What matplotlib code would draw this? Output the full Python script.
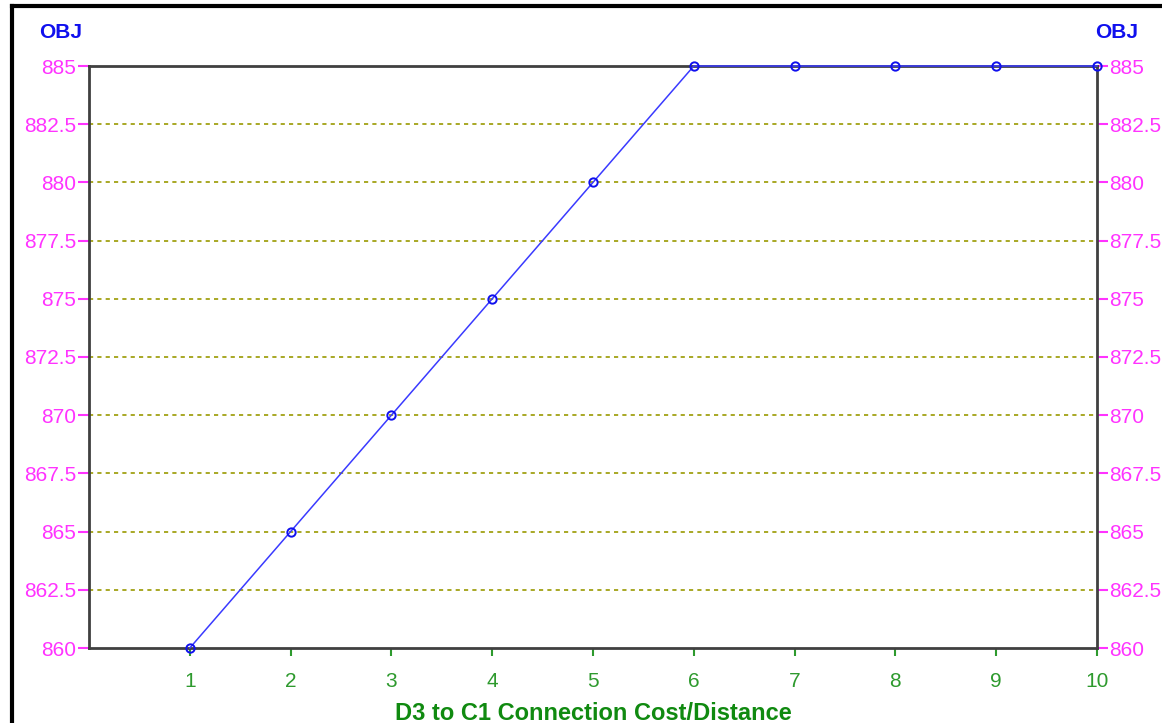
import matplotlib.pyplot as plt
from matplotlib.lines import Line2D

# objective value vs D3->C1 connection cost
cost = [1, 2, 3, 4, 5, 6, 7, 8, 9, 10]
obj = [860, 865, 870, 875, 880, 885, 885, 885, 885, 885]
yticks = [860, 862.5, 865, 867.5, 870, 872.5, 875, 877.5, 880, 882.5, 885]
ylabels = ['860', '862.5', '865', '867.5', '870', '872.5', '875', '877.5', '880', '882.5', '885']

pink = '#ff33ff'
green = '#2e9a2e'

plt.rcParams['font.family'] = ['Liberation Sans', 'DejaVu Sans']

fig = plt.figure(figsize=(11.62, 7.23), dpi=100)
ax = fig.add_axes([89 / 1162, 1 - 648 / 723, (1097 - 89) / 1162, (648 - 66) / 723])

for y in yticks[1:-1]:
    ax.axhline(y, color='#999900', lw=1.2, ls=(0, (2.5, 2.5)), zorder=1)

ax.plot(cost, obj, color='#3a3aff', lw=1.1, zorder=3, clip_on=False)
ax.plot(cost, obj, 'o', ms=6, mfc='none', mec='#1010ee', mew=1.4, zorder=4, clip_on=False)

ax.set_xlim(0, 10)
ax.set_ylim(860, 885)
ax.set_xticks(cost)
ax.set_xticklabels([str(c) for c in cost], color=green, fontsize=15)
ax.set_yticks(yticks)
ax.set_yticklabels(ylabels, color=pink, fontsize=15)
ax.tick_params(axis='y', which='both', left=True, right=True, labelleft=True, labelright=True,
               color=pink, length=8, width=1.5, pad=1)
ax.tick_params(axis='x', color=green, length=6, width=1.5, pad=11)

for s in ax.spines.values():
    s.set_color('#404040')
    s.set_linewidth(2)

ax.set_xlabel('D3 to C1 Connection Cost/Distance', color='#108a10', fontsize=17,
              fontweight='bold', labelpad=8)

fig.text(61 / 1162, 1 - 32 / 723, 'OBJ', color='#1010ee', fontsize=15, fontweight='bold',
         ha='center', va='center')
fig.text(1117 / 1162, 1 - 32 / 723, 'OBJ', color='#1010ee', fontsize=15, fontweight='bold',
         ha='center', va='center')

# outer frame, only top and left edges show
fig.add_artist(Line2D([12 / 1162, 1], [1 - 6 / 723, 1 - 6 / 723], color='black', lw=3,
                      transform=fig.transFigure))
fig.add_artist(Line2D([12 / 1162, 12 / 1162], [0, 1 - 6 / 723], color='black', lw=3,
                      transform=fig.transFigure))

fig.savefig('out.png', dpi=100)
